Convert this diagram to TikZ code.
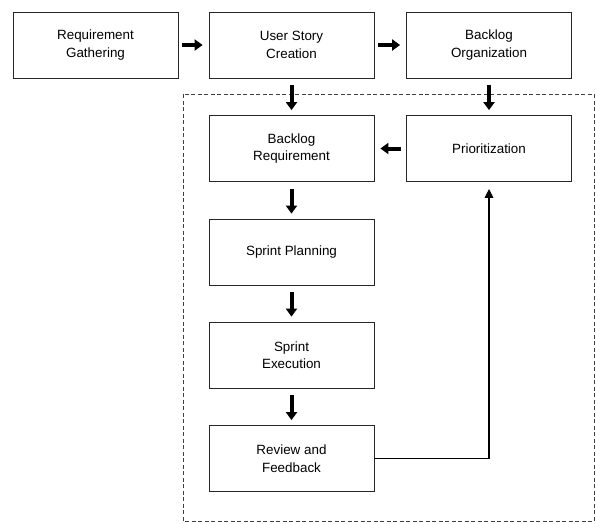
\documentclass[tikz,border=0pt]{standalone}
\usepackage{fontspec}
\setmainfont{Liberation Sans}
\usepackage{tikz}
\usetikzlibrary{arrows.meta}

\begin{document}
\begin{tikzpicture}[x=1pt, y=-1pt,
    every node/.style={rectangle, draw=black!85, line width=0.8pt, align=center,
      minimum width=165pt, minimum height=66pt, inner sep=2pt,
      font=\fontsize{13.4}{17.5}\selectfont},
    fatarrow/.style={line width=4pt, -{Triangle[width=11pt, length=8pt]},
      shorten <=7pt, shorten >=5pt},
    backline/.style={line width=1.6pt, -{Triangle[width=8.5pt, length=9pt]},
      shorten >=7pt},
    frame/.style={draw=black!75, line width=0.8pt, dash pattern=on 4pt off 2.5pt}]
     \useasboundingbox (0,0) rectangle (596,523);
     \draw[frame] (183,94) rectangle (594,521);

     \node (gather) at (95.5, 45) {Requirement\\Gathering};
     \node (story) at (291.5, 45) {User Story\\Creation};
     \node (organize) at (489, 45) {Backlog\\Organization};
     \node (backreq) at (291.5, 148.5) {Backlog\\Requirement};
     \node (prio) at (489, 148.5) {Prioritization};
     \node (plan) at (291.5, 252) {Sprint Planning};
     \node (exec) at (291.5, 355) {Sprint\\Execution};
     \node (review) at (291.5, 458.5) {Review and\\Feedback};

     \draw[fatarrow, shorten <=4pt, shorten >=6pt] (gather) -- (story);
     \draw[fatarrow, shorten <=4pt, shorten >=6pt] (story) -- (organize);
     \draw[fatarrow] (story) -- (backreq);
     \draw[fatarrow] (organize) -- (prio);
     \draw[fatarrow, shorten <=5pt, shorten >=6pt] (prio) -- (backreq);
     \draw[fatarrow] (backreq) -- (plan);
     \draw[fatarrow] (plan) -- (exec);
     \draw[fatarrow] (exec) -- (review);
     \draw[backline] (review.east) -| (prio.south);
    \end{tikzpicture}
\end{document}
